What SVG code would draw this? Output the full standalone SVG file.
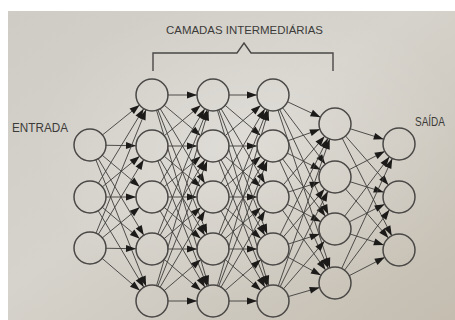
<svg xmlns="http://www.w3.org/2000/svg" width="455" height="320" viewBox="0 0 455 320">
<style>
.lbl{font-family:"Liberation Sans","Open Sans",Arial,sans-serif;fill:#3c3b39;}
.e{stroke:#3e3d3b;stroke-width:0.9;fill:none;marker-end:url(#ah);}
.n{fill:none;stroke:#4a4846;stroke-width:1.5;}
.br{fill:none;stroke:#4a4846;stroke-width:1.4;}
</style>
<defs>
<linearGradient id="bg" x1="0" y1="0" x2="1" y2="1">
<stop offset="0" stop-color="#cfccc5"/>
<stop offset="0.45" stop-color="#d6d3cc"/>
<stop offset="1" stop-color="#c4bdb0"/>
</linearGradient>
<radialGradient id="glow" cx="0.55" cy="0.45" r="0.5">
<stop offset="0" stop-color="#ffffff" stop-opacity="0.22"/>
<stop offset="1" stop-color="#ffffff" stop-opacity="0"/>
</radialGradient>
<marker id="ah" markerUnits="userSpaceOnUse" markerWidth="12" markerHeight="8" refX="26" refY="4" orient="auto" overflow="visible">
<path d="M0,0.5 L10,4 L0,7.5 z" fill="#1c1b1a"/>
</marker>
<mask id="holes" maskUnits="userSpaceOnUse" x="0" y="0" width="455" height="320">
<rect x="0" y="0" width="455" height="320" fill="#fff"/>
<g fill="#000">
<circle cx="90" cy="145" r="15.5"/><circle cx="90" cy="197" r="15.5"/><circle cx="90" cy="248" r="15.5"/>
<circle cx="152" cy="95" r="15.5"/><circle cx="152" cy="146" r="15.5"/><circle cx="152" cy="197" r="15.5"/><circle cx="152" cy="249" r="15.5"/><circle cx="152" cy="301" r="15.5"/>
<circle cx="213" cy="95" r="15.5"/><circle cx="213" cy="146" r="15.5"/><circle cx="213" cy="197" r="15.5"/><circle cx="213" cy="249" r="15.5"/><circle cx="213" cy="301" r="15.5"/>
<circle cx="273" cy="95" r="15.5"/><circle cx="273" cy="146" r="15.5"/><circle cx="273" cy="197" r="15.5"/><circle cx="273" cy="249" r="15.5"/><circle cx="273" cy="301" r="15.5"/>
<circle cx="335" cy="124" r="15.5"/><circle cx="335" cy="177" r="15.5"/><circle cx="335" cy="229" r="15.5"/><circle cx="335" cy="283" r="15.5"/>
<circle cx="399" cy="144" r="15.5"/><circle cx="399" cy="197" r="15.5"/><circle cx="399" cy="250" r="15.5"/>
</g>
</mask>
</defs>
<rect x="0" y="0" width="455" height="320" fill="#ffffff"/>
<rect x="8" y="11" width="447" height="309" fill="url(#bg)"/>
<rect x="8" y="11" width="447" height="309" fill="url(#glow)"/>

<g id="labels">
<text class="lbl" x="166" y="34" font-size="11" textLength="157" lengthAdjust="spacingAndGlyphs">CAMADAS INTERMEDIÁRIAS</text>
<text class="lbl" x="12" y="132" font-size="12" textLength="56" lengthAdjust="spacingAndGlyphs">ENTRADA</text>
<text class="lbl" x="415" y="126" font-size="12" textLength="30" lengthAdjust="spacingAndGlyphs">SAÍDA</text>
</g>
<g id="brace">
<path class="br" d="M153,71 V53 H237 L244,43 L251,53 H333 V71"/>
</g>

<g id="connectors" mask="url(#holes)">
<line class="e" x1="90" y1="145" x2="152" y2="95"/>
<line class="e" x1="90" y1="145" x2="152" y2="146"/>
<line class="e" x1="90" y1="145" x2="152" y2="197"/>
<line class="e" x1="90" y1="145" x2="152" y2="249"/>
<line class="e" x1="90" y1="145" x2="152" y2="301"/>
<line class="e" x1="90" y1="197" x2="152" y2="95"/>
<line class="e" x1="90" y1="197" x2="152" y2="146"/>
<line class="e" x1="90" y1="197" x2="152" y2="197"/>
<line class="e" x1="90" y1="197" x2="152" y2="249"/>
<line class="e" x1="90" y1="197" x2="152" y2="301"/>
<line class="e" x1="90" y1="248" x2="152" y2="95"/>
<line class="e" x1="90" y1="248" x2="152" y2="146"/>
<line class="e" x1="90" y1="248" x2="152" y2="197"/>
<line class="e" x1="90" y1="248" x2="152" y2="249"/>
<line class="e" x1="90" y1="248" x2="152" y2="301"/>

<line class="e" x1="152" y1="95" x2="213" y2="95"/>
<line class="e" x1="152" y1="95" x2="213" y2="146"/>
<line class="e" x1="152" y1="95" x2="213" y2="197"/>
<line class="e" x1="152" y1="95" x2="213" y2="249"/>
<line class="e" x1="152" y1="95" x2="213" y2="301"/>
<line class="e" x1="152" y1="146" x2="213" y2="95"/>
<line class="e" x1="152" y1="146" x2="213" y2="146"/>
<line class="e" x1="152" y1="146" x2="213" y2="197"/>
<line class="e" x1="152" y1="146" x2="213" y2="249"/>
<line class="e" x1="152" y1="146" x2="213" y2="301"/>
<line class="e" x1="152" y1="197" x2="213" y2="95"/>
<line class="e" x1="152" y1="197" x2="213" y2="146"/>
<line class="e" x1="152" y1="197" x2="213" y2="197"/>
<line class="e" x1="152" y1="197" x2="213" y2="249"/>
<line class="e" x1="152" y1="197" x2="213" y2="301"/>
<line class="e" x1="152" y1="249" x2="213" y2="95"/>
<line class="e" x1="152" y1="249" x2="213" y2="146"/>
<line class="e" x1="152" y1="249" x2="213" y2="197"/>
<line class="e" x1="152" y1="249" x2="213" y2="249"/>
<line class="e" x1="152" y1="249" x2="213" y2="301"/>
<line class="e" x1="152" y1="301" x2="213" y2="95"/>
<line class="e" x1="152" y1="301" x2="213" y2="146"/>
<line class="e" x1="152" y1="301" x2="213" y2="197"/>
<line class="e" x1="152" y1="301" x2="213" y2="249"/>
<line class="e" x1="152" y1="301" x2="213" y2="301"/>

<line class="e" x1="213" y1="95" x2="273" y2="95"/>
<line class="e" x1="213" y1="95" x2="273" y2="146"/>
<line class="e" x1="213" y1="95" x2="273" y2="197"/>
<line class="e" x1="213" y1="95" x2="273" y2="249"/>
<line class="e" x1="213" y1="95" x2="273" y2="301"/>
<line class="e" x1="213" y1="146" x2="273" y2="95"/>
<line class="e" x1="213" y1="146" x2="273" y2="146"/>
<line class="e" x1="213" y1="146" x2="273" y2="197"/>
<line class="e" x1="213" y1="146" x2="273" y2="249"/>
<line class="e" x1="213" y1="146" x2="273" y2="301"/>
<line class="e" x1="213" y1="197" x2="273" y2="95"/>
<line class="e" x1="213" y1="197" x2="273" y2="146"/>
<line class="e" x1="213" y1="197" x2="273" y2="197"/>
<line class="e" x1="213" y1="197" x2="273" y2="249"/>
<line class="e" x1="213" y1="197" x2="273" y2="301"/>
<line class="e" x1="213" y1="249" x2="273" y2="95"/>
<line class="e" x1="213" y1="249" x2="273" y2="146"/>
<line class="e" x1="213" y1="249" x2="273" y2="197"/>
<line class="e" x1="213" y1="249" x2="273" y2="249"/>
<line class="e" x1="213" y1="249" x2="273" y2="301"/>
<line class="e" x1="213" y1="301" x2="273" y2="95"/>
<line class="e" x1="213" y1="301" x2="273" y2="146"/>
<line class="e" x1="213" y1="301" x2="273" y2="197"/>
<line class="e" x1="213" y1="301" x2="273" y2="249"/>
<line class="e" x1="213" y1="301" x2="273" y2="301"/>

<line class="e" x1="273" y1="95" x2="335" y2="124"/>
<line class="e" x1="273" y1="95" x2="335" y2="177"/>
<line class="e" x1="273" y1="95" x2="335" y2="229"/>
<line class="e" x1="273" y1="95" x2="335" y2="283"/>
<line class="e" x1="273" y1="146" x2="335" y2="124"/>
<line class="e" x1="273" y1="146" x2="335" y2="177"/>
<line class="e" x1="273" y1="146" x2="335" y2="229"/>
<line class="e" x1="273" y1="146" x2="335" y2="283"/>
<line class="e" x1="273" y1="197" x2="335" y2="124"/>
<line class="e" x1="273" y1="197" x2="335" y2="177"/>
<line class="e" x1="273" y1="197" x2="335" y2="229"/>
<line class="e" x1="273" y1="197" x2="335" y2="283"/>
<line class="e" x1="273" y1="249" x2="335" y2="124"/>
<line class="e" x1="273" y1="249" x2="335" y2="177"/>
<line class="e" x1="273" y1="249" x2="335" y2="229"/>
<line class="e" x1="273" y1="249" x2="335" y2="283"/>
<line class="e" x1="273" y1="301" x2="335" y2="124"/>
<line class="e" x1="273" y1="301" x2="335" y2="177"/>
<line class="e" x1="273" y1="301" x2="335" y2="229"/>
<line class="e" x1="273" y1="301" x2="335" y2="283"/>

<line class="e" x1="335" y1="124" x2="399" y2="144"/>
<line class="e" x1="335" y1="124" x2="399" y2="197"/>
<line class="e" x1="335" y1="124" x2="399" y2="250"/>
<line class="e" x1="335" y1="177" x2="399" y2="144"/>
<line class="e" x1="335" y1="177" x2="399" y2="197"/>
<line class="e" x1="335" y1="177" x2="399" y2="250"/>
<line class="e" x1="335" y1="229" x2="399" y2="144"/>
<line class="e" x1="335" y1="229" x2="399" y2="197"/>
<line class="e" x1="335" y1="229" x2="399" y2="250"/>
<line class="e" x1="335" y1="283" x2="399" y2="144"/>
<line class="e" x1="335" y1="283" x2="399" y2="197"/>
<line class="e" x1="335" y1="283" x2="399" y2="250"/>
</g>

<g id="in1"><circle class="n" cx="90" cy="145" r="16"/></g>
<g id="in2"><circle class="n" cx="90" cy="197" r="16"/></g>
<g id="in3"><circle class="n" cx="90" cy="248" r="16"/></g>
<g id="h1a"><circle class="n" cx="152" cy="95" r="16"/></g>
<g id="h1b"><circle class="n" cx="152" cy="146" r="16"/></g>
<g id="h1c"><circle class="n" cx="152" cy="197" r="16"/></g>
<g id="h1d"><circle class="n" cx="152" cy="249" r="16"/></g>
<g id="h1e"><circle class="n" cx="152" cy="301" r="16"/></g>
<g id="h2a"><circle class="n" cx="213" cy="95" r="16"/></g>
<g id="h2b"><circle class="n" cx="213" cy="146" r="16"/></g>
<g id="h2c"><circle class="n" cx="213" cy="197" r="16"/></g>
<g id="h2d"><circle class="n" cx="213" cy="249" r="16"/></g>
<g id="h2e"><circle class="n" cx="213" cy="301" r="16"/></g>
<g id="h3a"><circle class="n" cx="273" cy="95" r="16"/></g>
<g id="h3b"><circle class="n" cx="273" cy="146" r="16"/></g>
<g id="h3c"><circle class="n" cx="273" cy="197" r="16"/></g>
<g id="h3d"><circle class="n" cx="273" cy="249" r="16"/></g>
<g id="h3e"><circle class="n" cx="273" cy="301" r="16"/></g>
<g id="h4a"><circle class="n" cx="335" cy="124" r="16"/></g>
<g id="h4b"><circle class="n" cx="335" cy="177" r="16"/></g>
<g id="h4c"><circle class="n" cx="335" cy="229" r="16"/></g>
<g id="h4d"><circle class="n" cx="335" cy="283" r="16"/></g>
<g id="out1"><circle class="n" cx="399" cy="144" r="16"/></g>
<g id="out2"><circle class="n" cx="399" cy="197" r="16"/></g>
<g id="out3"><circle class="n" cx="399" cy="250" r="16"/></g>
</svg>
